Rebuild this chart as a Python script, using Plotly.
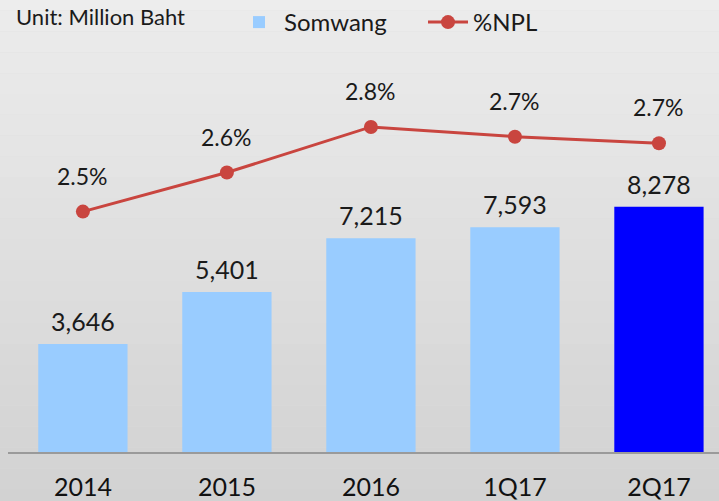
import plotly.graph_objects as go

categories = ["2014", "2015", "2016", "1Q17", "2Q17"]
somwang = [3646, 5401, 7215, 7593, 8278]
npl = [2.50, 2.62, 2.76, 2.73, 2.71]
bar_colors = ["#99ccff", "#99ccff", "#99ccff", "#99ccff", "#0000ff"]

FONT = "Lato"

fig = go.Figure()
fig.add_trace(go.Bar(
    x=categories, y=somwang, name="Somwang",
    marker=dict(color=bar_colors, line=dict(width=0)),
    width=0.62,
))
fig.add_trace(go.Scatter(
    x=categories, y=npl, name="%NPL", yaxis="y2",
    mode="lines+markers",
    line=dict(color="#c9453f", width=3),
    marker=dict(color="#c9453f", size=14),
    cliponaxis=False,
))

annotations = []
for i, v in enumerate(somwang):
    annotations.append(dict(x=i, y=v, xref="x", yref="y", text=f"{v:,}",
                            yanchor="bottom", xanchor="center", yshift=6, showarrow=False,
                            font=dict(size=25, family=FONT, color="#1a1a1a")))
for i, v in enumerate(npl):
    annotations.append(dict(x=i, y=v, xref="x", yref="y2", text=f"{v:.1f}%",
                            yanchor="bottom", xanchor="center", yshift=20, showarrow=False,
                            font=dict(size=23, family=FONT, color="#1a1a1a")))
annotations.append(dict(text="Unit: Million Baht", xref="paper", yref="paper",
                        x=(14 - 8) / 711, y=1 + (60 - 8) / 394, xanchor="left", yanchor="middle",
                        showarrow=False, font=dict(size=22, family=FONT, color="#1a1a1a")))

# soft vertical gradient background
shapes = []
n = 25
for i in range(n):
    t = i / (n - 1)
    c = int(237 - 27 * t)
    shapes.append(dict(type="rect", xref="paper", yref="paper", layer="below",
                       x0=-0.02, x1=1.02, y0=1.2 - (i + 1) * 1.35 / n, y1=1.2 - i * 1.35 / n,
                       fillcolor=f"rgb({c},{c},{c})", line=dict(width=0)))

fig.update_layout(
    width=719, height=501,
    margin=dict(l=8, r=0, t=60, b=47),
    paper_bgcolor="#dcdcdc", plot_bgcolor="rgba(0,0,0,0)",
    font=dict(family=FONT, color="#1a1a1a"),
    shapes=shapes,
    annotations=annotations,
    showlegend=True,
    legend=dict(orientation="h", x=(234 - 8) / 711, xanchor="left", y=1 + 69 / 394, yanchor="top",
                font=dict(size=24, family=FONT, color="#1a1a1a"),
                bgcolor="rgba(0,0,0,0)", itemwidth=40, entrywidth=134, entrywidthmode="pixels"),
    xaxis=dict(type="category", range=[-0.52, 4.417], showgrid=False, zeroline=False,
               showline=True, linecolor="#9a9a9a", linewidth=2,
               ticks="", ticklabelstandoff=12,
               tickfont=dict(size=25, family=FONT, color="#111111")),
    yaxis=dict(range=[0, 13000], visible=False, showgrid=False),
    yaxis2=dict(range=[1.762, 2.944], overlaying="y", visible=False, showgrid=False),
)

fig.write_html("out.html", config={"displayModeBar": False},
               post_script="document.body.style.margin='0';")
